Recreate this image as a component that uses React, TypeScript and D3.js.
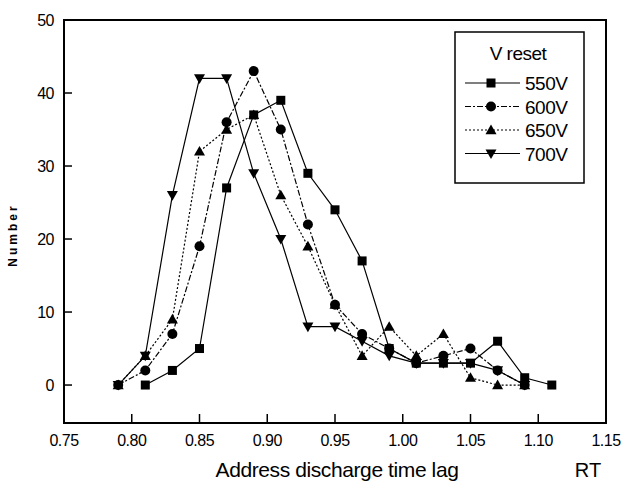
import React from "react";
import * as d3 from "d3";

const xCats = [0.79, 0.81, 0.83, 0.85, 0.87, 0.89, 0.91, 0.93, 0.95, 0.97, 0.99, 1.01, 1.03, 1.05, 1.07, 1.09, 1.11];
const v550: (number | null)[] = [null, 0, 2, 5, 27, 37, 39, 29, 24, 17, 5, 3, 3, 3, 6, 1, 0];
const v600: (number | null)[] = [0, 2, 7, 19, 36, 43, 35, 22, 11, 7, 5, 3, 4, 5, 2, 0, null];
const v650: (number | null)[] = [0, 4, 9, 32, 35, 37, 26, 19, 11, 4, 8, 4, 7, 1, 0, 0, null];
const v700: (number | null)[] = [0, 4, 26, 42, 42, 29, 20, 8, 8, 6, 4, 3, 3, 3, 2, 0, null];
const seriesNames = ["550V", "600V", "650V", "700V"];
const seriesMarkers = ["square", "circle", "triUp", "triDown"];
const seriesDash = ["none", "6,2,2,2", "2,2", "none"];
const xTicks = [0.75, 0.8, 0.85, 0.9, 0.95, 1.0, 1.05, 1.1, 1.15];
const yTicks = [0, 10, 20, 30, 40, 50];

const W = 624, H = 484;
const L = 64, R = 606, T = 20, B = 423;
const font = "'Liberation Sans', Arial, sans-serif";

function Marker({ type, x, y }: { type: string; x: number; y: number }) {
  if (type === "square") return <rect x={x - 4.5} y={y - 4.5} width={9} height={9} fill="#000" />;
  if (type === "circle") return <circle cx={x} cy={y} r={5} fill="#000" />;
  const s = 5.5;
  if (type === "triUp")
    return <path d={`M${x},${y - s}L${x + s},${y + s * 0.75}L${x - s},${y + s * 0.75}Z`} fill="#000" />;
  return <path d={`M${x},${y + s}L${x + s},${y - s * 0.75}L${x - s},${y - s * 0.75}Z`} fill="#000" />;
}

export default function App() {
  const x = d3.scaleLinear().domain([0.75, 1.15]).range([L, R]);
  const y = d3.scaleLinear().domain([-5.2, 50]).range([B, T]);
  const all = [v550, v600, v650, v700];
  const line = d3
    .line<[number, number | null]>()
    .defined((d) => d[1] !== null)
    .x((d) => x(d[0]))
    .y((d) => y(d[1] as number));

  return (
    <svg width={W} height={H} style={{ position: "absolute", left: 0, top: 0, background: "#fff" }}>
      <rect x={0} y={0} width={W} height={H} fill="#fff" />
      {all.map((vals, i) => {
        const pts = xCats.map((c, j) => [c, vals[j]] as [number, number | null]);
        return (
          <g key={i}>
            <path
              d={line(pts) || ""}
              fill="none"
              stroke="#000"
              strokeWidth={1.2}
              strokeDasharray={seriesDash[i] === "none" ? undefined : seriesDash[i]}
            />
            {pts
              .filter((p) => p[1] !== null)
              .map((p, j) => (
                <Marker key={j} type={seriesMarkers[i]} x={x(p[0])} y={y(p[1] as number)} />
              ))}
          </g>
        );
      })}
      {/* frame */}
      <rect x={L} y={T} width={R - L} height={B - T} fill="none" stroke="#000" strokeWidth={2} />
      {xTicks.map((t) => (
        <g key={t}>
          <line x1={x(t)} x2={x(t)} y1={B} y2={B - 9} stroke="#000" strokeWidth={1.5} />
          <text x={x(t)} y={446} textAnchor="middle" fontFamily={font} fontSize={16} letterSpacing={-0.5} fill="#000">
            {t.toFixed(2)}
          </text>
        </g>
      ))}
      {yTicks.map((t) => (
        <g key={t}>
          <line x1={L} x2={L + 8} y1={y(t)} y2={y(t)} stroke="#000" strokeWidth={1.5} />
          <text x={L - 10} y={y(t) + 6} textAnchor="end" fontFamily={font} fontSize={16} letterSpacing={-0.5} fill="#000">
            {t}
          </text>
        </g>
      ))}
      <text x={337} y={477} textAnchor="middle" fontFamily={font} fontSize={21} letterSpacing={-0.4} fill="#000">
        Address discharge time lag
      </text>
      <text x={588} y={477} textAnchor="middle" fontFamily={font} fontSize={20} fill="#000">
        RT
      </text>
      <text
        transform="translate(17,235) rotate(-90)"
        textAnchor="middle"
        fontFamily={font}
        fontSize={12}
        fontWeight="bold"
        letterSpacing={3}
        fill="#000"
      >
        Number
      </text>
      {/* legend */}
      <rect x={455} y={32} width={129} height={151} fill="#fff" stroke="#000" strokeWidth={1.5} />
      <text x={518} y={60} textAnchor="middle" fontFamily={font} fontSize={19} letterSpacing={-0.5} fill="#000">
        V reset
      </text>
      {seriesNames.map((n, i) => {
        const ly = 83 + i * 23.5;
        return (
          <g key={n}>
            <line
              x1={465}
              x2={520}
              y1={ly}
              y2={ly}
              stroke="#000"
              strokeWidth={1.2}
              strokeDasharray={seriesDash[i] === "none" ? undefined : seriesDash[i]}
            />
            <Marker type={seriesMarkers[i]} x={491} y={ly} />
            <text x={525} y={ly + 7} fontFamily={font} fontSize={19} letterSpacing={-0.5} fill="#000">
              {n}
            </text>
          </g>
        );
      })}
    </svg>
  );
}
